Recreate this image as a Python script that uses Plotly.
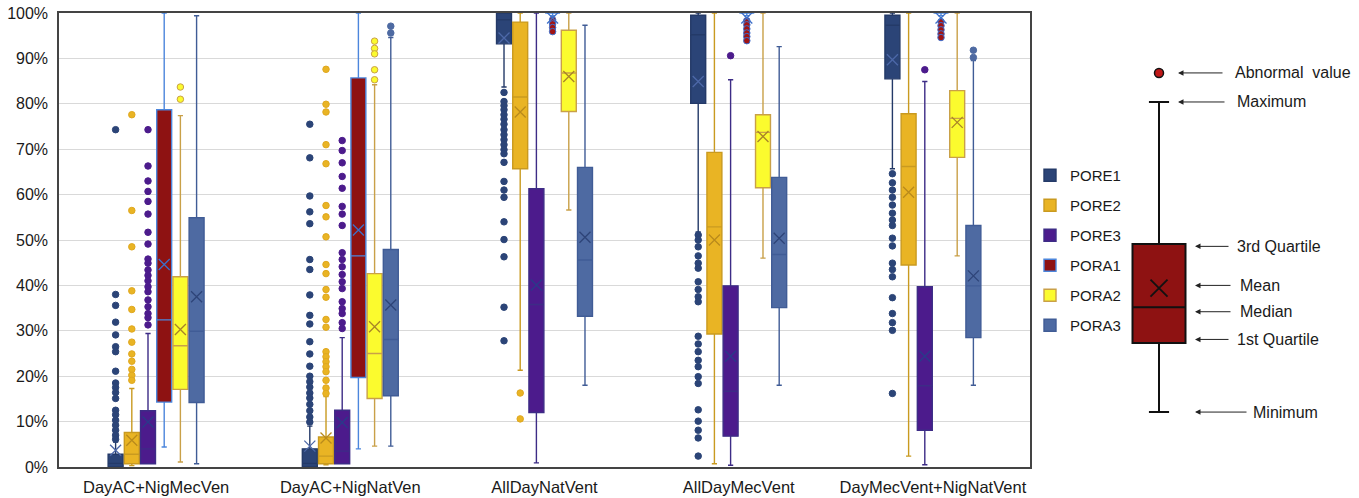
import plotly.graph_objects as go

# ---------------- data ----------------
categories = ["DayAC+NigMecVen", "DayAC+NigNatVen", "AllDayNatVent",
              "AllDayMecVent", "DayMecVent+NigNatVent"]
series_names = ["PORE1", "PORE2", "PORE3", "PORA1", "PORA2", "PORA3"]
y_ticks = [0, 10, 20, 30, 40, 50, 60, 70, 80, 90, 100]
y_tick_labels = ["0%", "10%", "20%", "30%", "40%", "50%", "60%", "70%", "80%", "90%", "100%"]

pore1_low = [0, 0, 83.7, 51.8, 65.7]
pore1_q1 = [0, 0, 93.2, 80.1, 85.5]
pore1_med = [0.8, 0.8, 98.5, 95.2, 97.3]
pore1_q3 = [2.8, 4.0, 100, 99.5, 99.5]
pore1_high = [5.5, 9.0, 100, 100, 100]
pore1_mean = [3.7, 4.6, 94.5, 84.9, 89.7]
pore1_out = [
    [74.3, 38.0, 35.6, 31.9, 29.1, 26.5, 25.4, 21.1, 18.5, 17.5, 16.4, 15.1, 12.5, 11.5, 10.3, 9.2, 8.1, 7.0, 6.1],
    [75.5, 68.1, 59.7, 56.2, 53.6, 45.7, 43.5, 37.9, 33.4, 31.5, 27.6, 24.9, 22.2, 20.0, 18.8, 17.6, 16.3, 15.2, 13.8, 12.4, 11.0, 9.9],
    [82.5, 80.5, 79.6, 78.7, 77.6, 76.6, 75.5, 74.3, 73.2, 72.1, 71.0, 69.9, 69.0, 67.1, 62.9, 61.0, 59.4, 54.0, 50.1, 46.3, 35.2, 27.8],
    [51.1, 50.0, 48.5, 46.5, 44.9, 43.8, 40.8, 39.1, 37.5, 36.4, 28.8, 27.1, 25.4, 23.5, 22.1, 19.9, 18.4, 12.6, 10.1, 8.1, 6.4, 2.4],
    [64.6, 62.6, 61.0, 59.4, 57.7, 55.9, 54.4, 53.2, 50.4, 48.7, 44.9, 43.5, 41.9, 37.3, 33.8, 31.8, 30.1, 16.2],
]

pore2_low = [0.3, 0.5, 21.3, 0.7, 2.4]
pore2_q1 = [0.7, 0.7, 65.7, 29.3, 44.5]
pore2_med = [2.8, 2.4, 81.5, 52.9, 66.2]
pore2_q3 = [7.6, 6.6, 98.0, 69.3, 77.8]
pore2_high = [17.3, 15.5, 100, 100, 100]
pore2_mean = [5.9, 6.4, 78.2, 50.0, 60.5]
pore2_out = [
    [77.6, 56.5, 48.5, 38.8, 34.7, 30.4, 27.5, 24.9, 23.3, 21.5, 20.2, 19.1],
    [87.6, 79.9, 78.2, 71.0, 66.8, 57.6, 55.1, 50.7, 44.6, 42.6, 39.1, 37.4, 32.5, 30.8, 25.4, 24.3, 23.2, 22.1, 21.0, 19.1, 17.4, 16.2],
    [16.3, 10.6],
    [],
    [],
]

pore3_low = [0.7, 0.7, 0.9, 0.4, 0.5]
pore3_q1 = [0.7, 0.7, 12.0, 6.8, 8.1]
pore3_med = [4.0, 3.5, 35.8, 16.7, 17.9]
pore3_q3 = [12.4, 12.5, 61.3, 39.9, 39.7]
pore3_high = [29.4, 28.5, 100, 85.3, 84.9]
pore3_mean = [9.9, 9.8, 40.1, 24.4, 24.4]
pore3_out = [
    [74.3, 66.3, 63.0, 60.7, 58.5, 55.7, 51.7, 49.1, 45.8, 44.9, 43.4, 42.2, 41.0, 39.7, 38.6, 36.8, 35.3, 33.8, 32.9, 31.3],
    [71.9, 69.7, 67.0, 64.0, 61.4, 57.4, 55.7, 53.2, 47.2, 45.7, 44.1, 42.4, 40.8, 39.3, 36.4, 34.9, 33.8, 31.8, 30.5],
    [],
    [90.6],
    [87.5],
]

pora1_low = [4.4, 4.0, 99.4, 99.4, 99.4]
pora1_q1 = [14.3, 19.7, 100, 100, 100]
pora1_med = [32.4, 46.5, 100, 100, 100]
pora1_q3 = [78.7, 85.7, 100, 100, 100]
pora1_high = [100, 100, 100, 100, 100]
pora1_mean = [44.6, 52.2, 98.9, 98.9, 98.9]
pora1_out = [
    [],
    [],
    [98.5, 97.6, 96.8, 95.9],
    [98.3, 97.4, 96.5, 95.6, 94.8, 93.9],
    [98.1, 97.2, 96.3, 95.4, 94.6],
]

pora2_low = [1.1, 4.6, 56.6, 46.0, 46.5]
pora2_q1 = [17.1, 15.1, 78.3, 61.5, 68.2]
pora2_med = [26.7, 25.0, 86.8, 73.7, 76.8]
pora2_q3 = [41.9, 42.6, 96.2, 77.6, 82.9]
pora2_high = [77.4, 84.2, 100, 100, 100]
pora2_mean = [30.3, 30.9, 86.0, 72.8, 75.9]
pora2_out = [
    [83.7, 81.0],
    [93.8, 92.2, 91.0, 87.5, 85.3],
    [],
    [],
    [],
]

pora3_low = [0.7, 4.6, 18.0, 18.0, 18.0]
pora3_q1 = [14.2, 15.7, 33.2, 35.1, 28.5]
pora3_med = [29.9, 28.1, 45.6, 46.8, 39.9]
pora3_q3 = [54.9, 47.9, 66.0, 63.8, 53.2]
pora3_high = [99.4, 94.6, 97.3, 92.6, 89.5]
pora3_mean = [37.5, 35.7, 50.6, 50.4, 42.1]
pora3_out = [
    [],
    [97.1, 95.6],
    [],
    [],
    [91.8, 90.2],
]

# explanatory key (schematic box)
key_labels = ["Abnormal\u00a0 value", "Maximum", "3rd Quartile", "Mean", "Median", "1st Quartile", "Minimum"]
key_values = [86.8, 80.4, 49.1, 39.4, 35.2, 27.3, 12.1]
key_label_y = [86.8, 80.4, 48.6, 40.0, 34.2, 28.1, 12.1]

# ---------------- styling ----------------
styles = {
    "PORE1": dict(fill="#2b4477", line="#243a68", mean="#4d68a8",
                  ofill="#2b4477", oline="#2b4477"),
    "PORE2": dict(fill="#e9b424", line="#c99a20", mean="#b98a1c",
                  ofill="#e9b424", oline="#e0a820"),
    "PORE3": dict(fill="#4c1b8c", line="#3d2c86", mean="#2a3a8a",
                  ofill="#4c1b8c", oline="#4c1b8c"),
    "PORA1": dict(fill="#8e1212", line="#4c86dc", mean="#3d6fc8",
                  ofill="#a01414", oline="#3d6fd0"),
    "PORA2": dict(fill="#fbfb2e", line="#c9a048", mean="#a88428",
                  ofill="#fbfb2e", oline="#c9a048"),
    "PORA3": dict(fill="#4e6aa2", line="#405c96", mean="#2e4478",
                  ofill="#4e6aa2", oline="#4e6aa2"),
}

stats = {
    "PORE1": (pore1_low, pore1_q1, pore1_med, pore1_q3, pore1_high, pore1_mean, pore1_out),
    "PORE2": (pore2_low, pore2_q1, pore2_med, pore2_q3, pore2_high, pore2_mean, pore2_out),
    "PORE3": (pore3_low, pore3_q1, pore3_med, pore3_q3, pore3_high, pore3_mean, pore3_out),
    "PORA1": (pora1_low, pora1_q1, pora1_med, pora1_q3, pora1_high, pora1_mean, pora1_out),
    "PORA2": (pora2_low, pora2_q1, pora2_med, pora2_q3, pora2_high, pora2_mean, pora2_out),
    "PORA3": (pora3_low, pora3_q1, pora3_med, pora3_q3, pora3_high, pora3_mean, pora3_out),
}

FONT = "Arial, Liberation Sans, Helvetica, sans-serif"
STEP = 0.0834
BOXW = 0.077

fig = go.Figure()
n = len(series_names)
for si, name in enumerate(series_names):
    low, q1, med, q3, high, mean, outs = stats[name]
    st = styles[name]
    xs = [ci + (si - (n - 1) / 2) * STEP for ci in range(len(categories))]
    fig.add_trace(go.Box(
        x=xs, q1=q1, median=med, q3=q3, lowerfence=low, upperfence=high,
        name=name, width=BOXW, whiskerwidth=0.35, boxpoints=False,
        fillcolor=st["fill"], line=dict(color=st["line"], width=1.4),
        legendgroup=name, showlegend=True, hoverinfo="skip",
    ))
    ox, oy = [], []
    for ci, vals in enumerate(outs):
        for v in vals:
            ox.append(xs[ci]); oy.append(v)
    fig.add_trace(go.Scatter(
        x=ox, y=oy, mode="markers", showlegend=False, legendgroup=name,
        marker=dict(size=6.5, color=st["ofill"], line=dict(color=st["oline"], width=1)),
        hoverinfo="skip",
    ))
    fig.add_trace(go.Scatter(
        x=xs, y=mean, mode="markers", showlegend=False, legendgroup=name,
        marker=dict(symbol="x-thin-open", size=11, color=st["mean"],
                    line=dict(color=st["mean"], width=1.3)),
        hoverinfo="skip",
    ))

# ---------------- explanatory key ----------------
KX = 1159      # key box centre (x2 units = px)
kl = key_labels
kv = dict(zip(kl, key_values))
ky = dict(zip(kl, key_label_y))
fig.add_trace(go.Box(
    x=[KX], q1=[kv[kl[5]]], median=[kv[kl[4]]], q3=[kv[kl[2]]],
    lowerfence=[kv[kl[6]]], upperfence=[kv[kl[1]]], width=53, whiskerwidth=0.38,
    boxpoints=False, fillcolor="#8e1212", line=dict(color="#111111", width=2),
    xaxis="x2", yaxis="y2", showlegend=False, hoverinfo="skip",
))
fig.add_trace(go.Scatter(
    x=[KX], y=[kv[kl[3]]], mode="markers", xaxis="x2", yaxis="y2", showlegend=False,
    marker=dict(symbol="x-thin-open", size=17, color="#111111",
                line=dict(color="#111111", width=1.8)),
    hoverinfo="skip",
))
fig.add_trace(go.Scatter(
    x=[KX], y=[kv[kl[0]]], mode="markers", xaxis="x2", yaxis="y2", showlegend=False,
    marker=dict(size=9, color="#c01818", line=dict(color="#111111", width=1.5)),
    hoverinfo="skip",
))

arrow_head = [1178, 1178, 1195, 1195, 1195, 1195, 1195]
arrow_tail = [1224, 1226, 1230, 1232, 1232, 1230, 1248]
text_x = [1233, 1235, 1235, 1238, 1238, 1235, 1251]
annotations = []
for i, lab in enumerate(kl):
    y = ky[lab]
    annotations.append(dict(
        x=arrow_head[i], y=y, ax=arrow_tail[i], ay=y, xref="x2", yref="y2",
        axref="x2", ayref="y2", text="", showarrow=True, arrowhead=2, arrowsize=1.1,
        arrowwidth=1, arrowcolor="#222222"))
    annotations.append(dict(
        x=text_x[i], y=y, xref="x2", yref="y2", text=lab, showarrow=False,
        xanchor="left", yanchor="middle", font=dict(family=FONT, size=16, color="#1a1a1a")))

L, R, T, B = 59, 10, 13, 31
W, H = 1359, 498
PW = W - L - R
fig.update_layout(
    width=W, height=H,
    margin=dict(l=L, r=R, t=T, b=B, autoexpand=False),
    paper_bgcolor="white", plot_bgcolor="white",
    boxmode="overlay",
    font=dict(family=FONT, size=15, color="#1a1a1a"),
    xaxis=dict(domain=[0, (1030 - L) / PW], range=[-0.5, len(categories) - 0.5],
               tickmode="array", tickvals=list(range(len(categories))), ticktext=categories,
               showgrid=False, zeroline=False, showline=True, mirror=True, automargin=False,
               linecolor="#444444", linewidth=1.5, ticks="", ticklabelstandoff=4,
               tickfont=dict(family=FONT, size=16.5, color="#1a1a1a")),
    yaxis=dict(range=[0, 100], tickmode="array", tickvals=y_ticks, ticktext=y_tick_labels,
               showgrid=True, gridcolor="#d9d9d9", gridwidth=1.2, zeroline=False, automargin=False,
               showline=True, mirror=True, linecolor="#444444", linewidth=1.5, ticks="",
               ticklabelstandoff=6,
               tickfont=dict(family=FONT, size=16, color="#1a1a1a")),
    xaxis2=dict(domain=[(1090 - L) / PW, 1.0], range=[1090, W - R], visible=False,
                anchor="y2", fixedrange=True),
    yaxis2=dict(range=[0, 100], visible=False, anchor="x2", fixedrange=True),
    legend=dict(x=(1030 - L) / PW, y=(467 - 159) / (H - T - B), xanchor="left", yanchor="top",
                font=dict(family=FONT, size=15, color="#1a1a1a"), tracegroupgap=7.5,
                bgcolor="rgba(0,0,0,0)", itemclick=False, itemdoubleclick=False),
    annotations=annotations,
    showlegend=True,
)

fig.write_html("out.html", config={"displayModeBar": False},
               post_script="document.body.style.margin='0px';")
